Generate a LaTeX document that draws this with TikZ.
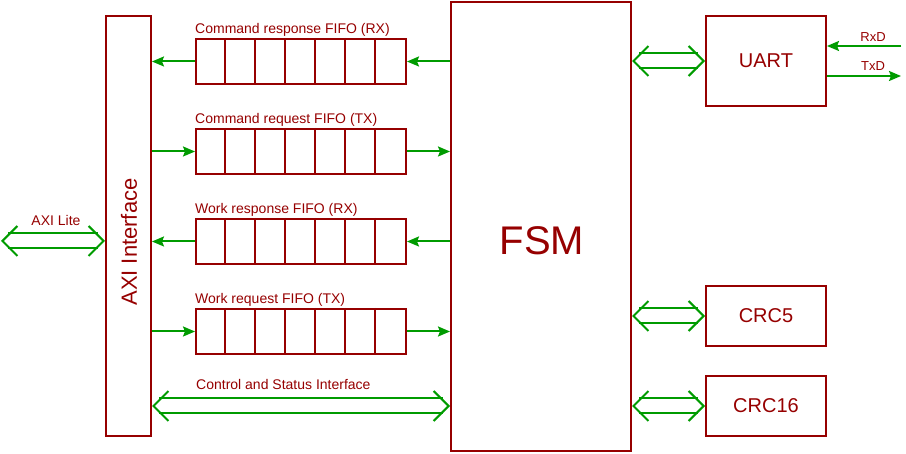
\documentclass[tikz,border=0pt]{standalone}
\usepackage{fontspec}
\setmainfont{Liberation Sans}
\usetikzlibrary{arrows.meta}
\definecolor{boxred}{RGB}{150,0,0}
\definecolor{siggreen}{RGB}{0,155,0}
\begin{document}
\begin{tikzpicture}[x=1pt,y=-1pt,
  every node/.style={text=boxred,inner sep=0pt},
  blk/.style={draw=boxred,line width=2pt,shape=rectangle},
  fifo/.style={blk,minimum width=210pt,minimum height=45pt},
  lbl/.style={font=\fontsize{14}{16}\selectfont},
  sig/.style={draw=siggreen,line width=2pt,-{Stealth[length=12pt,width=10pt,inset=2pt]}},
  dbl/.style={draw=siggreen,line width=2pt,double=white,double distance=13pt,shorten <=7pt,shorten >=7pt},
  dbltip/.style={siggreen,line width=2pt,tips=true,
    {Straight Barb[length=15pt,width=30pt]}-{Straight Barb[length=15pt,width=30pt]}}]
\useasboundingbox (0,0) rectangle (906,454);
%Nodes
\path
 (128.5,226) node[blk,minimum width=45pt,minimum height=420pt] (axi) {}
 (541,226.5) node[blk,minimum width=180pt,minimum height=449pt] (fsm) {}
 (301,61.5) node[fifo] (crfifo) {}
 (301,151.5) node[fifo] (cqfifo) {}
 (301,241.5) node[fifo] (wrfifo) {}
 (301,331.5) node[fifo] (wqfifo) {}
 (766,61) node[blk,minimum width=120pt,minimum height=90pt,font=\fontsize{20}{24}\selectfont] (uart) {UART}
 (766,316) node[blk,minimum width=120pt,minimum height=60pt,font=\fontsize{20}{24}\selectfont] (crc5) {CRC5}
 (766,406) node[blk,minimum width=120pt,minimum height=60pt,font=\fontsize{20}{24}\selectfont] (crc16) {CRC16}
 ;
\coordinate (axil) at (1,241);
\coordinate (csi) at (301,406);
\coordinate (rxd) at (901,46);
\coordinate (txd) at (901,76);

% FIFO cells
\foreach \f in {crfifo,cqfifo,wrfifo,wqfifo}
  \foreach \i in {1,...,6}
    \draw[boxred,line width=2pt] ([xshift=30*\i pt]\f.north west) -- ([xshift=30*\i pt]\f.south west);

%Edges
\draw[sig] (crfifo.east -| fsm.west) -- (crfifo.east);
\draw[sig] (crfifo.west) -- (crfifo.west -| axi.east);
\draw[sig] (cqfifo.west -| axi.east) -- (cqfifo.west);
\draw[sig] (cqfifo.east) -- (cqfifo.east -| fsm.west);
\draw[sig] (wrfifo.east -| fsm.west) -- (wrfifo.east);
\draw[sig] (wrfifo.west) -- (wrfifo.west -| axi.east);
\draw[sig] (wqfifo.west -| axi.east) -- (wqfifo.west);
\draw[sig] (wqfifo.east) -- (wqfifo.east -| fsm.west);
\draw[sig] (rxd) -- (rxd -| uart.east);
\draw[sig] (txd -| uart.east) -- (txd);

% Double buses
\foreach \a/\b in {csi -| axi.east/csi -| fsm.west, axil/axil -| axi.west,
    uart.west -| fsm.east/uart.west, crc5.west -| fsm.east/crc5.west,
    crc16.west -| fsm.east/crc16.west}{
  \draw[dbl] (\a) -- (\b);
  \path[dbltip] (\a) -- (\b);
}

% Adding labels
\node[lbl,anchor=base west] at ([yshift=4pt]crfifo.north west) {Command response FIFO (RX)};
\node[lbl,anchor=base west] at ([yshift=4pt]cqfifo.north west) {Command request FIFO (TX)};
\node[lbl,anchor=base west] at ([yshift=4pt]wrfifo.north west) {Work response FIFO (RX)};
\node[lbl,anchor=base west] at ([yshift=4pt]wqfifo.north west) {Work request FIFO (TX)};
\node[lbl,anchor=base west] at (196,390) {Control and Status Interface};
\node[lbl,anchor=base] at (56,226) {AXI Lite};
\node[lbl,anchor=base,font=\fontsize{13}{15}\selectfont] at (873,42) {RxD};
\node[lbl,anchor=base,font=\fontsize{13}{15}\selectfont] at (873,71) {TxD};
\node[rotate=90,font=\fontsize{22}{26}\selectfont] at (129,242) {AXI Interface};
\node[font=\fontsize{40}{48}\selectfont] at (542,241) {FSM};
\end{tikzpicture}
\end{document}
